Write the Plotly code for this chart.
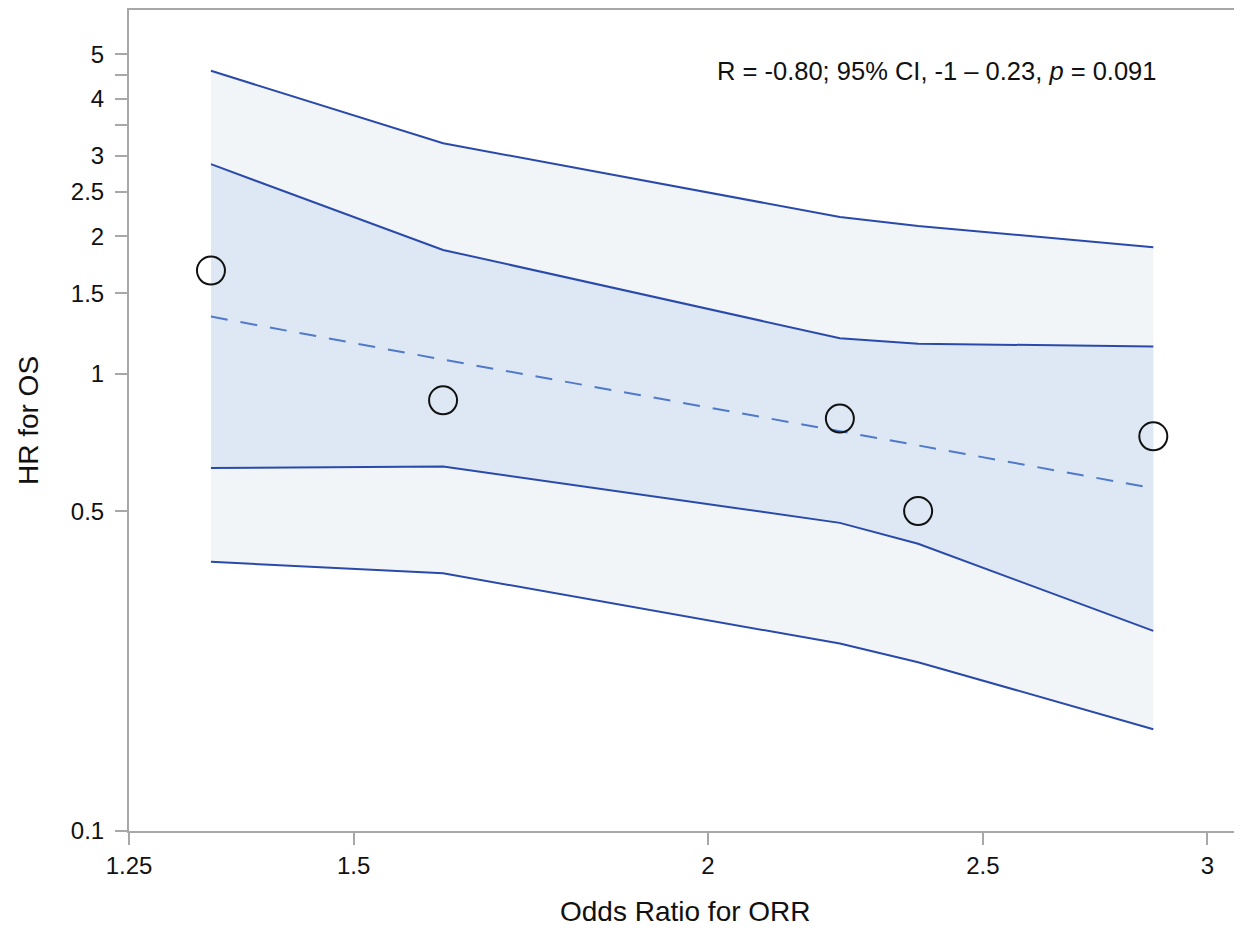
import plotly.graph_objects as go

# Data
odds_ratio_orr = [1.336, 1.613, 2.226, 2.372, 2.871]
hr_os = [1.682, 0.875, 0.798, 0.501, 0.730]

fit_line = [1.334, 1.074, 0.749, 0.697, 0.562]
ci_upper = [2.874, 1.866, 1.196, 1.164, 1.147]
ci_lower = [0.622, 0.627, 0.472, 0.425, 0.274]
pi_upper = [4.600, 3.194, 2.203, 2.105, 1.892]
pi_lower = [0.388, 0.366, 0.257, 0.234, 0.167]

y_tick_vals = [0.1, 0.5, 1, 1.5, 2, 2.5, 3, 3.5, 4, 4.5, 5]
y_tick_text = ["0.1", "0.5", "1", "1.5", "2", "2.5", "3", "", "4", "", "5"]
x_tick_vals = [1.25, 1.5, 2, 2.5, 3]
x_tick_text = ["1.25", "1.5", "2", "2.5", "3"]

x_title = "Odds Ratio for ORR"
y_title = "HR for OS"
annotation_text = "R = -0.80; 95% CI, -1 \u2013 0.23, <i>p</i> = 0.091"

OUTER_FILL = "#f2f5f8"
INNER_FILL = "#dde8f4"
BAND_LINE = "#2a4aab"
FIT_LINE = "#5079c9"
AXIS_GREY = "#a8a8a8"
TEXT = "#111111"
FONT = "Liberation Sans, Arial, sans-serif"

fig = go.Figure()

# Outer (prediction) band fill
fig.add_trace(go.Scatter(x=odds_ratio_orr, y=pi_lower, mode="lines",
                         line=dict(width=0), hoverinfo="skip", showlegend=False))
fig.add_trace(go.Scatter(x=odds_ratio_orr, y=pi_upper, mode="lines", fill="tonexty",
                         fillcolor=OUTER_FILL, line=dict(width=0),
                         hoverinfo="skip", showlegend=False))
# Inner (confidence) band fill
fig.add_trace(go.Scatter(x=odds_ratio_orr, y=ci_lower, mode="lines",
                         line=dict(width=0), hoverinfo="skip", showlegend=False))
fig.add_trace(go.Scatter(x=odds_ratio_orr, y=ci_upper, mode="lines", fill="tonexty",
                         fillcolor=INNER_FILL, line=dict(width=0),
                         hoverinfo="skip", showlegend=False))

# Band boundary lines
for band in (pi_upper, ci_upper, ci_lower, pi_lower):
    fig.add_trace(go.Scatter(x=odds_ratio_orr, y=band, mode="lines",
                             line=dict(color=BAND_LINE, width=2),
                             showlegend=False))

# Regression line
fig.add_trace(go.Scatter(x=odds_ratio_orr, y=fit_line, mode="lines",
                         line=dict(color=FIT_LINE, width=2, dash="17px,13px"),
                         showlegend=False))

# Observed points
fig.add_trace(go.Scatter(x=odds_ratio_orr, y=hr_os, mode="markers",
                         marker=dict(symbol="circle-open", size=28,
                                     color=TEXT, line=dict(width=2)),
                         showlegend=False))

fig.add_annotation(text=annotation_text, xref="paper", yref="paper",
                   x=0.9245, y=0.9255, xanchor="right", yanchor="middle",
                   showarrow=False, font=dict(family=FONT, size=25.5, color=TEXT))

# X axis title placed as an annotation
fig.add_annotation(text=x_title, xref="paper", yref="paper",
                   x=0.5, y=-0.098, xanchor="center", yanchor="middle",
                   showarrow=False, font=dict(family=FONT, size=28, color=TEXT))

fig.update_xaxes(type="log", range=[0.09691, 0.4893],
                 tickvals=x_tick_vals, ticktext=x_tick_text,
                 ticks="outside", ticklen=12, tickwidth=2, tickcolor=AXIS_GREY,
                 showline=True, linecolor=AXIS_GREY, linewidth=2, mirror=True,
                 showgrid=False, zeroline=False,
                 tickfont=dict(family=FONT, size=24, color=TEXT))
fig.update_yaxes(type="log", range=[-1, 0.7957],
                 tickvals=y_tick_vals, ticktext=y_tick_text,
                 ticks="outside", ticklen=12, tickwidth=2, tickcolor=AXIS_GREY,
                 showline=True, linecolor=AXIS_GREY, linewidth=2,
                 showgrid=False, zeroline=False,
                 ticklabelstandoff=6,
                 tickfont=dict(family=FONT, size=24, color=TEXT),
                 title=dict(text=y_title, standoff=24,
                            font=dict(family=FONT, size=28, color=TEXT)))

fig.update_layout(width=1242, height=932,
                  margin=dict(l=121, r=8, t=0, b=109),
                  plot_bgcolor="white", paper_bgcolor="white",
                  font=dict(family=FONT))

fig.write_html("out.html")
